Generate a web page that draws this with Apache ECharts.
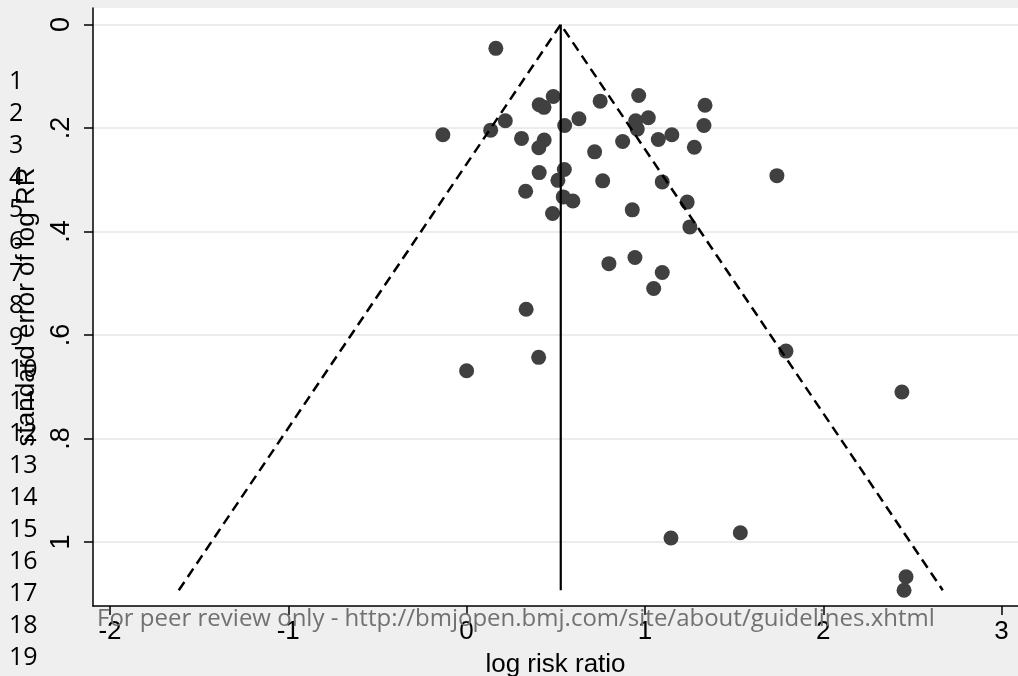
<!DOCTYPE html>
<html>
<head>
<meta charset="utf-8">
<script src="https://cdn.jsdelivr.net/npm/echarts@6/dist/echarts.min.js"></script>
<style>
html,body{margin:0;padding:0;background:#efefef;}
#chart{width:1018px;height:676px;}
</style>
</head>
<body>
<div id="chart"></div>
<script>
// study estimates: log risk ratio and its standard error
const logRR = [0.164, -0.133, 0.135, 0.217, 0.308, 0.407, 0.434, 0.486, 0.435, 0.405,
  0.550, 0.630, 0.749, 0.965, 0.948, 0.957, 1.019, 1.337, 1.331, 1.151,
  1.075, 0.875, 0.718, 1.277, 0.407, 0.548, 0.512, 0.763, 1.097, 0.331,
  0.542, 0.596, 1.237, 0.482, 0.929, 1.252, 1.740, 0.798, 0.944, 1.097,
  1.049, 0.334, 0.404, 0.000, 1.791, 2.441, 1.146, 1.535, 2.464, 2.453];
const seLogRR = [0.046, 0.213, 0.204, 0.186, 0.220, 0.155, 0.160, 0.139, 0.223, 0.238,
  0.195, 0.182, 0.148, 0.137, 0.186, 0.202, 0.180, 0.156, 0.195, 0.213,
  0.222, 0.226, 0.246, 0.237, 0.286, 0.280, 0.301, 0.302, 0.304, 0.322,
  0.333, 0.341, 0.343, 0.365, 0.358, 0.391, 0.292, 0.462, 0.450, 0.479,
  0.510, 0.550, 0.643, 0.669, 0.631, 0.710, 0.992, 0.982, 1.067, 1.093];
// pseudo 95% confidence limits (funnel) and pooled estimate line
const funnelX = [-1.614, 0.528, 2.670];
const funnelY = [1.093, 0, 1.093];
const pooledX = [0.528, 0.528];
const pooledY = [0, 1.093];
// axis ticks
const xTicks = [-2, -1, 0, 1, 2, 3];
const yTicks = [0, 0.2, 0.4, 0.6, 0.8, 1];
const yTickLabels = ['0', '.2', '.4', '.6', '.8', '1'];
// manuscript page line numbers & watermark
const lineNumbers = ['1','2','3','4','5','6','7','8','9','10','11','12','13','14','15','16','17','18','19'];
const watermark = 'For peer review only - http://bmjopen.bmj.com/site/about/guidelines.xhtml';

const points = logRR.map((x, i) => [x, seLogRR[i]]);
const funnel = funnelX.map((x, i) => [x, funnelY[i]]);
const pooled = pooledX.map((x, i) => [x, pooledY[i]]);

const graphics = lineNumbers.map((t, i) => ({
  type: 'text', left: 9, top: 80 + i * 32.04 - 11, z: 100,
  style: { text: t, font: '25px "Open Sans"', fill: '#000' }
}));
graphics.push({
  type: 'text', left: 97, top: 607, z: 100,
  style: { text: watermark, font: '24px "Open Sans"', fill: '#717171' }
});

const chart = echarts.init(document.getElementById('chart'));
chart.setOption({
  backgroundColor: '#efefef',
  animation: false,
  grid: { left: 93, right: 0, top: 8, bottom: 70, show: true, backgroundColor: '#ffffff', borderWidth: 0,
    containLabel: false, outerBoundsMode: 'none' },
  xAxis: {
    type: 'value', min: -2.095, max: 3.092,
    name: 'log risk ratio', nameLocation: 'middle', nameGap: 46,
    nameTextStyle: { fontFamily: 'Liberation Sans', fontSize: 26, color: '#000' },
    axisLine: { show: true, onZero: false, lineStyle: { color: '#000', width: 1.5 } },
    axisTick: { show: true, length: 9, customValues: xTicks, lineStyle: { color: '#000', width: 1.5 } },
    axisLabel: { customValues: xTicks, margin: 13, fontFamily: 'Liberation Sans', fontSize: 26, color: '#000',
      formatter: v => String(v) },
    splitLine: { show: false }
  },
  yAxis: {
    type: 'value', inverse: true, min: -0.032, max: 1.1235,
    name: 'standard error of log RR', nameLocation: 'middle', nameGap: 50, nameRotate: 90,
    nameTextStyle: { fontFamily: 'Liberation Sans', fontSize: 26, color: '#000' },
    axisLine: { show: true, onZero: false, lineStyle: { color: '#000', width: 1.5 } },
    axisTick: { show: true, length: 9, customValues: yTicks, lineStyle: { color: '#000', width: 1.5 } },
    axisLabel: { customValues: yTicks, rotate: 90, margin: 18, fontFamily: 'Liberation Sans', fontSize: 27, color: '#000',
      formatter: v => { const i = yTicks.findIndex(t => Math.abs(t - v) < 1e-9); return i >= 0 ? yTickLabels[i] : ''; } },
    splitLine: { show: true, lineStyle: { color: '#ececec', width: 2 } }
  },
  series: [
    { type: 'scatter', data: points, symbol: 'circle', symbolSize: 15, itemStyle: { color: '#404040', opacity: 1 }, z: 2 },
    { type: 'line', data: funnel, symbol: 'none', lineStyle: { color: '#000', width: 2.5, type: [10, 6] }, z: 3 },
    { type: 'line', data: pooled, symbol: 'none', lineStyle: { color: '#000', width: 2.2 }, z: 3 }
  ],
  graphic: graphics
});
</script>
</body>
</html>
